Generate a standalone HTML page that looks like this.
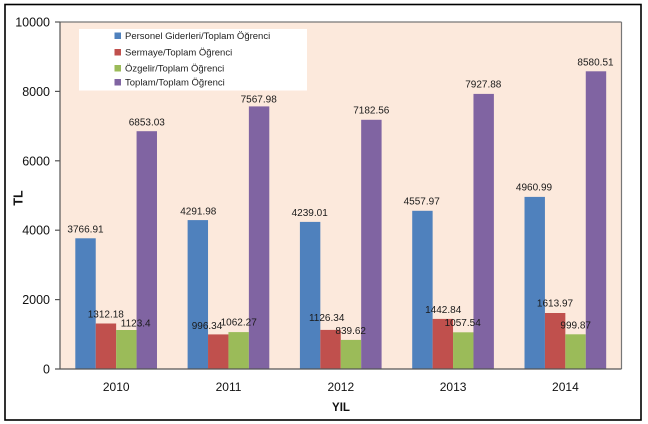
<!DOCTYPE html>
<html>
<head>
<meta charset="utf-8">
<style>
  html,body{margin:0;padding:0;background:#fff;}
  svg{display:block;}
  text{font-family:"Liberation Sans",Arial,sans-serif;}
</style>
</head>
<body>
<svg width="648" height="424" viewBox="0 0 648 424" xmlns="http://www.w3.org/2000/svg">
  <rect x="0" y="0" width="648" height="424" fill="#ffffff"/>
  <!-- outer frame -->
  <rect x="5" y="4.5" width="636" height="415.5" fill="none" stroke="#000" stroke-width="1.6"/>
  <!-- plot area -->
  <rect x="60" y="22" width="561.5" height="347" fill="#FCE9DC"/>
  <line x1="60" y1="22" x2="621.5" y2="22" stroke="#777" stroke-width="1.2"/>
  <line x1="621.5" y1="22" x2="621.5" y2="369" stroke="#777" stroke-width="1.2"/>

  <!-- legend -->
  <rect x="79" y="29" width="228" height="61.5" fill="#ffffff"/>
  <g font-size="9.5" fill="#222">
    <rect x="114.5" y="32.5" width="6.5" height="6.5" fill="#4F81BD"/>
    <text x="125" y="39">Personel Giderleri/Toplam Öğrenci</text>
    <rect x="114.5" y="49" width="6.5" height="6.5" fill="#C0504D"/>
    <text x="125" y="55.5">Sermaye/Toplam Öğrenci</text>
    <rect x="114.5" y="65" width="6.5" height="6.5" fill="#9BBB59"/>
    <text x="125" y="71.5">Özgelir/Toplam Öğrenci</text>
    <rect x="114.5" y="79" width="6.5" height="6.5" fill="#8064A2"/>
    <text x="125" y="85.5">Toplam/Toplam Öğrenci</text>
  </g>

  <!-- bars: bar width 20.42, group offset 15.31 -->
  <g>
    <!-- 2010 -->
    <rect x="75.31" y="238.3" width="20.42" height="130.7" fill="#4F81BD"/>
    <rect x="95.73" y="323.5" width="20.42" height="45.5" fill="#C0504D"/>
    <rect x="116.15" y="330.0" width="20.42" height="39.0" fill="#9BBB59"/>
    <rect x="136.57" y="131.2" width="20.42" height="237.8" fill="#8064A2"/>
    <!-- 2011 -->
    <rect x="187.61" y="220.1" width="20.42" height="148.9" fill="#4F81BD"/>
    <rect x="208.03" y="334.4" width="20.42" height="34.6" fill="#C0504D"/>
    <rect x="228.45" y="332.1" width="20.42" height="36.9" fill="#9BBB59"/>
    <rect x="248.87" y="106.4" width="20.42" height="262.6" fill="#8064A2"/>
    <!-- 2012 -->
    <rect x="299.91" y="221.9" width="20.42" height="147.1" fill="#4F81BD"/>
    <rect x="320.33" y="329.9" width="20.42" height="39.1" fill="#C0504D"/>
    <rect x="340.75" y="339.9" width="20.42" height="29.1" fill="#9BBB59"/>
    <rect x="361.17" y="119.8" width="20.42" height="249.2" fill="#8064A2"/>
    <!-- 2013 -->
    <rect x="412.21" y="210.8" width="20.42" height="158.2" fill="#4F81BD"/>
    <rect x="432.63" y="318.9" width="20.42" height="50.1" fill="#C0504D"/>
    <rect x="453.05" y="332.3" width="20.42" height="36.7" fill="#9BBB59"/>
    <rect x="473.47" y="93.9" width="20.42" height="275.1" fill="#8064A2"/>
    <!-- 2014 -->
    <rect x="524.51" y="196.9" width="20.42" height="172.1" fill="#4F81BD"/>
    <rect x="544.93" y="313.0" width="20.42" height="56.0" fill="#C0504D"/>
    <rect x="565.35" y="334.3" width="20.42" height="34.7" fill="#9BBB59"/>
    <rect x="585.77" y="71.3" width="20.42" height="297.7" fill="#8064A2"/>
  </g>

  <!-- axes -->
  <line x1="60" y1="22" x2="60" y2="369.5" stroke="#555" stroke-width="1.2"/>
  <line x1="55" y1="369" x2="621.5" y2="369" stroke="#555" stroke-width="1.2"/>
  <g stroke="#555" stroke-width="1.2">
    <line x1="55" y1="22" x2="60" y2="22"/>
    <line x1="55" y1="91.4" x2="60" y2="91.4"/>
    <line x1="55" y1="160.8" x2="60" y2="160.8"/>
    <line x1="55" y1="230.2" x2="60" y2="230.2"/>
    <line x1="55" y1="299.6" x2="60" y2="299.6"/>
  </g>

  <!-- y tick labels -->
  <g font-size="12.5" fill="#111" text-anchor="end">
    <text x="50" y="26.5">10000</text>
    <text x="50" y="95.9">8000</text>
    <text x="50" y="165.3">6000</text>
    <text x="50" y="234.7">4000</text>
    <text x="50" y="304.1">2000</text>
    <text x="50" y="373.5">0</text>
  </g>

  <!-- x tick labels -->
  <g font-size="12" fill="#111" text-anchor="middle">
    <text x="116.2" y="391">2010</text>
    <text x="228.5" y="391">2011</text>
    <text x="340.8" y="391">2012</text>
    <text x="453.1" y="391">2013</text>
    <text x="565.4" y="391">2014</text>
  </g>

  <!-- axis titles -->
  <text x="341" y="411" font-size="11.5" font-weight="bold" fill="#111" text-anchor="middle">YIL</text>
  <text transform="translate(22.5,198) rotate(-90)" font-size="12.5" font-weight="bold" fill="#111" text-anchor="middle">TL</text>

  <!-- data labels -->
  <g font-size="10" fill="#1a1a1a" text-anchor="middle">
    <text x="85.5" y="232.3">3766.91</text>
    <text x="105.8" y="317.3">1312.18</text>
    <text x="135.7" y="326.6">1123.4</text>
    <text x="146.8" y="125.6">6853.03</text>

    <text x="198.3" y="214.3">4291.98</text>
    <text x="207" y="328.9">996.34</text>
    <text x="238.7" y="325.6">1062.27</text>
    <text x="258.7" y="102.6">7567.98</text>

    <text x="309.7" y="215.9">4239.01</text>
    <text x="326.7" y="320.9">1126.34</text>
    <text x="350.7" y="333.9">839.62</text>
    <text x="371.3" y="113.6">7182.56</text>

    <text x="421.7" y="204.6">4557.97</text>
    <text x="443.2" y="312.9">1442.84</text>
    <text x="462.7" y="325.9">1057.54</text>
    <text x="483.3" y="87.6">7927.88</text>

    <text x="534" y="190.6">4960.99</text>
    <text x="555" y="306.6">1613.97</text>
    <text x="575.7" y="328.3">999.87</text>
    <text x="595.5" y="65.6">8580.51</text>
  </g>
</svg>
</body>
</html>
